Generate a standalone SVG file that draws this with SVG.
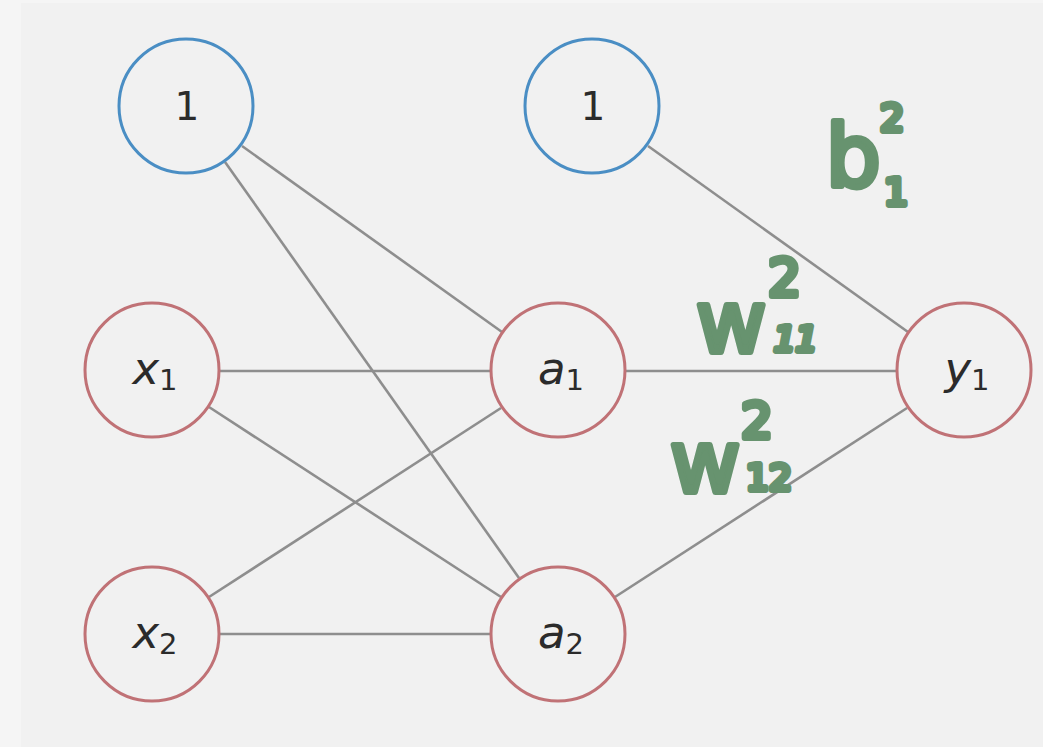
<svg xmlns="http://www.w3.org/2000/svg" width="1043" height="747" viewBox="0 0 1043 747">
  <style>
    .edge { stroke: #8e8e8e; stroke-width: 2.6; fill: none; }
    .bias circle { fill: none; stroke: #4a8ec4; stroke-width: 3; }
    .unit circle { fill: none; stroke: #c07276; stroke-width: 3; }
    .lbl { font-family: "DejaVu Sans", sans-serif; font-size: 39px; fill: #2b2b2b; text-anchor: middle; }
    .lbl .v { font-style: italic; font-size: 45px; }
    .lbl .s { font-size: 29px; }
    .ink { font-family: "DejaVu Sans", sans-serif; fill: #67936f; stroke: #67936f; stroke-width: 6; stroke-linejoin: round; stroke-linecap: round; }
  </style>

  <!-- page and plot panel -->
  <rect x="0" y="0" width="1043" height="747" fill="#f5f5f5"/>
  <rect x="21" y="3" width="1022" height="744" fill="#f1f1f1"/>

  <!-- connections between layers -->
  <g id="connectors">
    <line class="edge" x1="242" y1="146" x2="502" y2="332"/>
    <line class="edge" x1="225" y1="162" x2="519" y2="578"/>
    <line class="edge" x1="220" y1="371" x2="490" y2="371"/>
    <line class="edge" x1="209" y1="407" x2="501" y2="597"/>
    <line class="edge" x1="209" y1="597" x2="501" y2="408"/>
    <line class="edge" x1="220" y1="634" x2="490" y2="634"/>
    <line class="edge" x1="648" y1="146" x2="908" y2="332"/>
    <line class="edge" x1="626" y1="371" x2="896" y2="371"/>
    <line class="edge" x1="615" y1="597" x2="907" y2="408"/>
  </g>

  <!-- input layer -->
  <g id="bias1" class="bias">
    <circle cx="186" cy="106" r="67"/>
    <text class="lbl" x="187" y="120">1</text>
  </g>
  <g id="x1" class="unit">
    <circle cx="152" cy="370" r="67"/>
    <text class="lbl" x="155" y="384"><tspan class="v">x</tspan><tspan class="s" dy="6">1</tspan></text>
  </g>
  <g id="x2" class="unit">
    <circle cx="152" cy="634" r="67"/>
    <text class="lbl" x="155" y="648"><tspan class="v">x</tspan><tspan class="s" dy="6">2</tspan></text>
  </g>

  <!-- hidden layer -->
  <g id="bias2" class="bias">
    <circle cx="592" cy="106" r="67"/>
    <text class="lbl" x="593" y="120">1</text>
  </g>
  <g id="a1" class="unit">
    <circle cx="558" cy="370" r="67"/>
    <text class="lbl" x="561" y="384"><tspan class="v">a</tspan><tspan class="s" dy="6">1</tspan></text>
  </g>
  <g id="a2" class="unit">
    <circle cx="558" cy="634" r="67"/>
    <text class="lbl" x="561" y="648"><tspan class="v">a</tspan><tspan class="s" dy="6">2</tspan></text>
  </g>

  <!-- output layer -->
  <g id="y1" class="unit">
    <circle cx="964" cy="370" r="67"/>
    <text class="lbl" x="967" y="384"><tspan class="v">y</tspan><tspan class="s" dy="6">1</tspan></text>
  </g>

  <!-- handwritten weight annotations -->
  <g id="annotations">
    <text class="ink" x="826" y="186" font-size="86">b</text>
    <text class="ink" x="880" y="131" font-size="38">2</text>
    <text class="ink" x="884" y="205" font-size="38">1</text>

    <text class="ink" x="696" y="352" font-size="86">w</text>
    <text class="ink" x="768" y="296" font-size="52">2</text>
    <text class="ink" x="774" y="351" font-size="34" font-style="italic">11</text>

    <text class="ink" x="670" y="492" font-size="86">w</text>
    <text class="ink" x="741" y="438" font-size="50">2</text>
    <text class="ink" x="746" y="490" font-size="36">12</text>
  </g>
</svg>
